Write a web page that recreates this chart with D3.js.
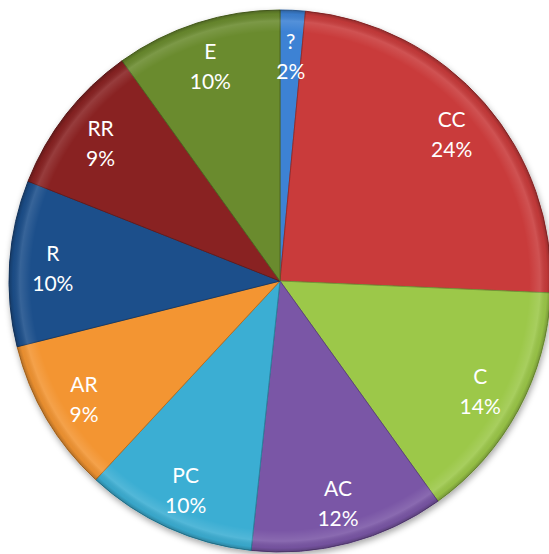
<!DOCTYPE html>
<html>
<head>
<meta charset="utf-8">
<script src="https://cdn.jsdelivr.net/npm/d3@7"></script>
<style>
  html, body { margin: 0; padding: 0; background: #fff; }
  svg { display: block; }
</style>
</head>
<body>
<svg id="chart" width="549" height="554"></svg>
<script>
// data (percent shares, clockwise from 12 o'clock)
const categories = ['?', 'CC', 'C', 'AC', 'PC', 'AR', 'R', 'RR', 'E'];
const values = [1.5, 24.2, 14.4, 11.6, 10.2, 9.2, 9.9, 9.1, 9.9];
const colors = ['#3d82d4', '#c93b3b', '#9cc84a', '#7a56a6', '#3aaed3', '#f39530', '#1f4f8b', '#892424', '#6b8b2d'];

const width = 549, height = 554;
const cx = 280, cy = 281, R = 271;

const svg = d3.select('#chart');
const defs = svg.append('defs');

const shadow = defs.append('filter').attr('id', 'shadow')
  .attr('x', '-10%').attr('y', '-10%').attr('width', '120%').attr('height', '120%');
shadow.append('feDropShadow')
  .attr('dx', 1).attr('dy', 3).attr('stdDeviation', 3)
  .attr('flood-color', '#000').attr('flood-opacity', 0.35);

// rim bevel: light ring just inside the edge, darker at the very edge
const rim = defs.append('radialGradient').attr('id', 'rim')
  .attr('gradientUnits', 'userSpaceOnUse')
  .attr('cx', 0).attr('cy', 0).attr('r', R);
rim.append('stop').attr('offset', '0%').attr('stop-color', '#fff').attr('stop-opacity', 0);
rim.append('stop').attr('offset', '92%').attr('stop-color', '#fff').attr('stop-opacity', 0);
rim.append('stop').attr('offset', '96%').attr('stop-color', '#fff').attr('stop-opacity', 0.12);
rim.append('stop').attr('offset', '98.5%').attr('stop-color', '#000').attr('stop-opacity', 0.05);
rim.append('stop').attr('offset', '100%').attr('stop-color', '#000').attr('stop-opacity', 0.25);

const data = categories.map((c, i) => ({ name: c, value: values[i], color: colors[i] }));

const pie = d3.pie().sort(null).value(d => d.value);
const arcs = pie(data);

const arc = d3.arc().innerRadius(0).outerRadius(R);
const labelArc = d3.arc().innerRadius(R * 0.84).outerRadius(R * 0.84);

const g = svg.append('g').attr('transform', `translate(${cx},${cy})`);

const slices = g.append('g').attr('filter', 'url(#shadow)');

slices.selectAll('path.slice')
  .data(arcs)
  .enter()
  .append('path')
  .attr('class', 'slice')
  .attr('d', arc)
  .attr('fill', d => d.data.color)
  .attr('stroke', d => d3.color(d.data.color).darker(0.8))
  .attr('stroke-width', 1)
  .attr('stroke-linejoin', 'round');

// bevel overlay per slice
g.selectAll('path.bevel')
  .data(arcs)
  .enter()
  .append('path')
  .attr('class', 'bevel')
  .attr('d', arc)
  .attr('fill', 'url(#rim)')
  .style('pointer-events', 'none');

const labels = g.selectAll('text')
  .data(arcs)
  .enter()
  .append('text')
  .attr('transform', d => `translate(${labelArc.centroid(d)})`)
  .attr('text-anchor', 'middle')
  .attr('fill', '#fff')
  .attr('font-family', 'Lato, "Open Sans", sans-serif')
  .attr('font-size', 21);

labels.append('tspan')
  .attr('x', 0).attr('y', -5)
  .text(d => d.data.name);

labels.append('tspan')
  .attr('x', 0).attr('y', 25)
  .text(d => Math.round(d.data.value) + '%');
</script>
</body>
</html>
